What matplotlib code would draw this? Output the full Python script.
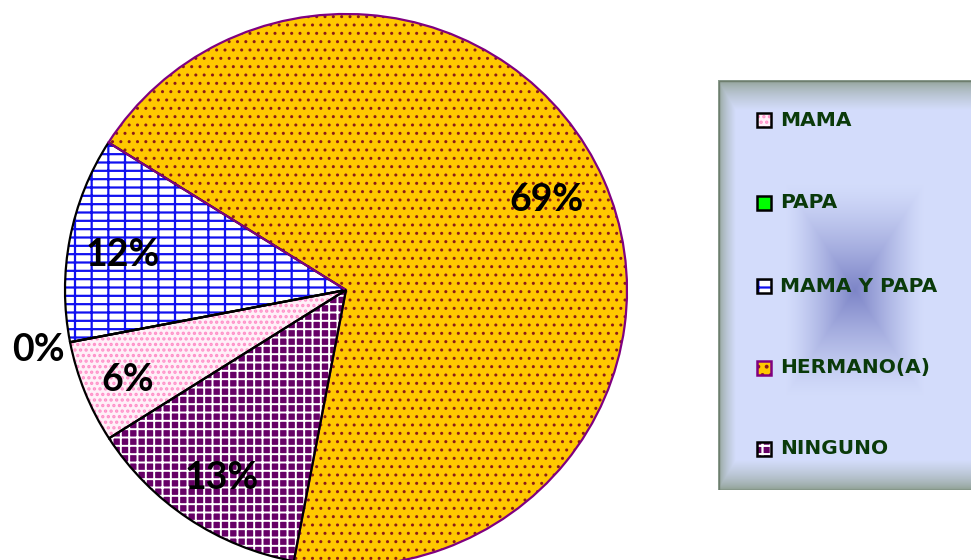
import numpy as np
import matplotlib.pyplot as plt
from matplotlib.patches import Rectangle

# data
categories = ["MAMA", "PAPA", "MAMA Y PAPA", "HERMANO(A)", "NINGUNO"]
percents = [6, 0, 12, 69, 13]
pct_labels = ["6%", "0%", "12%", "69%", "13%"]

# styles
face_colors = ["#FFF0F8", "#00FF00", "#FFFFFF", "#FFC800", "#660066"]
hatch_colors = ["#FF8FC8", "#00FF00", "#1010F0", "#8B1A1A", "#FFFFFF"]
hatches = ["...", "", "--|", "..", "++"]
hatch_lw = [1.6, 1.0, 1.6, 1.0, 1.4]
edge_colors = ["black", "black", "black", "#800080", "black"]
label_pos = [(-0.777, -0.326), (-1.094, -0.217), (-0.795, 0.127), (0.715, 0.326), (-0.441, -0.681)]

plt.rcParams["hatch.linewidth"] = 1.6


def set_hlw(p, lw):
    if hasattr(p, "set_hatch_linewidth"):
        p.set_hatch_linewidth(lw)


fig = plt.figure(figsize=(9.71, 5.6), dpi=100)
fig.patch.set_facecolor("white")

#%% pie (center at 346, 290 px; radius ~281 x 276 px)
ax = fig.add_axes([(346 - 281) / 971, (270 - 276) / 560, 562 / 971, 552 / 560])
w1, _ = ax.pie(percents, startangle=212.5, counterclock=False, radius=1,
               wedgeprops=dict(linewidth=0))
for w, fc, hc, h, hl in zip(w1, face_colors, hatch_colors, hatches, hatch_lw):
    w.set_facecolor(fc)
    w.set_edgecolor(hc)
    w.set_hatch(h)
    set_hlw(w, hl)
w2, _ = ax.pie(percents, startangle=212.5, counterclock=False, radius=1,
               wedgeprops=dict(fill=False, linewidth=1.6))
for w, ec in zip(w2, edge_colors):
    w.set_edgecolor(ec)
for (x, y), t in zip(label_pos, pct_labels):
    ax.text(x, y, t, ha="center", va="center", fontsize=27,
            fontweight="bold", family="Lato", color="black", zorder=10)
ax.set_xlim(-1, 1)
ax.set_ylim(-1, 1)
ax.set_aspect("auto")
ax.axis("off")

#%% legend box with gradient fill
W, H = 253, 410
xx, yy = np.meshgrid(np.arange(W) + 0.5, np.arange(H) + 0.5)
base = np.array([0.83, 0.865, 0.985])
dark = np.array([0.49, 0.52, 0.78])
border = np.array([0.53, 0.60, 0.53])
d = np.maximum(np.abs(xx - 137) / 70, np.abs(yy - 210) / 107)
t = np.clip(1 - d, 0, 1)[..., None] ** 1.3
img = base * (1 - t) + dark * t
e_left = np.clip(xx / 18, 0, 1)
e_top = np.clip(yy / 30, 0, 1)
e_bot = np.clip((H - yy) / 30, 0, 1)
f = np.minimum(np.minimum(e_left, e_top), e_bot)[..., None] ** 0.6
img = border * (1 - f) + img * f

lax = fig.add_axes([718 / 971, (560 - 490) / 560, W / 971, H / 560])
lax.imshow(img, extent=[0, W, H, 0], aspect="auto", interpolation="bilinear")
lax.set_xlim(0, W)
lax.set_ylim(H, 0)
lax.add_patch(Rectangle((0.5, 0.5), W, H - 1, fill=False, edgecolor="#6E7E6E", linewidth=1))
rows = [40, 123, 206, 288, 369]
for yr, name, fc, hc, h, ec in zip(rows, categories, face_colors, hatch_colors, hatches, edge_colors):
    lax.add_patch(Rectangle((39, yr - 7), 14, 14, facecolor=fc, edgecolor=hc, hatch=h, linewidth=0))
    lax.add_patch(Rectangle((39, yr - 7), 14, 14, fill=False, edgecolor=ec, linewidth=1.8))
    lax.text(62, yr, name, ha="left", va="center", fontsize=14.5, fontweight="bold",
             family="DejaVu Sans", color="#0A3A0A")
lax.axis("off")

plt.savefig("out.png", dpi=100)
